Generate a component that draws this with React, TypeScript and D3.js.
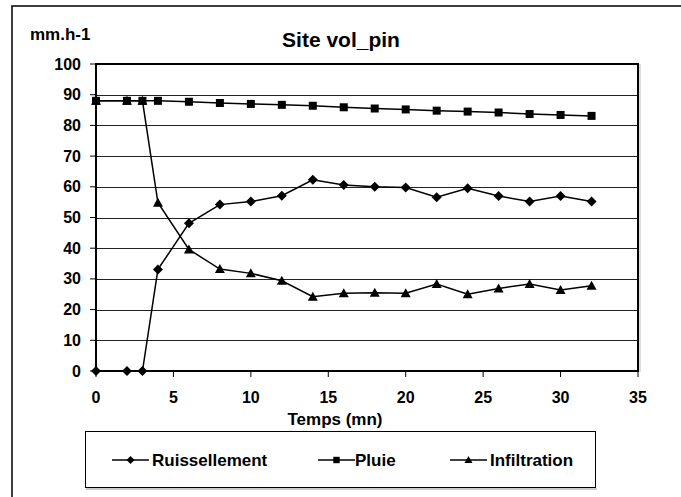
import React from "react";
import * as d3 from "d3";

const times = [0, 2, 3, 4, 6, 8, 10, 12, 14, 16, 18, 20, 22, 24, 26, 28, 30, 32];
const ruissellement = [0, 0, 0, 33.1, 48.1, 54.2, 55.2, 57.1, 62.3, 60.6, 60, 59.8, 56.6, 59.5, 57, 55.2, 57, 55.2];
const pluie = [88, 88, 88, 88, 87.7, 87.3, 87, 86.7, 86.4, 85.9, 85.5, 85.2, 84.8, 84.5, 84.2, 83.7, 83.4, 83.1];
const infiltration = [88, 88, 88, 54.8, 39.6, 33.2, 31.8, 29.4, 24.2, 25.3, 25.5, 25.3, 28.3, 25, 26.9, 28.3, 26.4, 27.8];
const xTicks = [0, 5, 10, 15, 20, 25, 30, 35];
const yTicks = [0, 10, 20, 30, 40, 50, 60, 70, 80, 90, 100];
const seriesNames = ["Ruissellement", "Pluie", "Infiltration"];

const FONT = "'Liberation Sans', Arial, sans-serif";

function Marker({ kind, x, y, s = 1 }: { kind: string; x: number; y: number; s?: number }) {
  if (kind === "diamond") {
    const r = 5 * s;
    return <path d={`M${x},${y - r}L${x + r},${y}L${x},${y + r}L${x - r},${y}Z`} fill="#000" />;
  }
  if (kind === "square") {
    const r = 4 * s;
    return <rect x={x - r} y={y - r} width={2 * r} height={2 * r} fill="#000" />;
  }
  const r = 5 * s;
  return <path d={`M${x},${y - r}L${x + r},${y + r - 1}L${x - r},${y + r - 1}Z`} fill="#000" />;
}

export default function App() {
  const L = 96, R = 638, T = 64, B = 371;
  const x = d3.scaleLinear().domain([0, 35]).range([L, R]);
  const y = d3.scaleLinear().domain([0, 100]).range([B, T]);
  const line = d3
    .line<[number, number]>()
    .x((d) => x(d[0]))
    .y((d) => y(d[1]));
  const data = [ruissellement, pluie, infiltration];
  const kinds = ["diamond", "square", "triangle"];
  const legendX = [112, 318, 450];
  const legendText = [152, 355, 490];

  return (
    <svg
      width={681}
      height={497}
      style={{ position: "fixed", left: 0, top: 0, background: "#fff" }}
      fontFamily={FONT}
    >
      <rect x={0} y={0} width={681} height={497} fill="#fff" />
      <rect x={12} y={6} width={720} height={600} fill="none" stroke="#000" strokeWidth={1.5} />
      <text x={30} y={40} fontSize={17} fontWeight="bold">mm.h-1</text>
      <text x={341} y={47} fontSize={21} fontWeight="bold" textAnchor="middle">Site vol_pin</text>

      {yTicks.filter((t) => t > 0 && t < 100).map((t) => (
        <line key={t} x1={L} x2={R} y1={Math.round(y(t)) + 0.5} y2={Math.round(y(t)) + 0.5} stroke="#222" strokeWidth={1} />
      ))}
      <rect x={L} y={T} width={R - L} height={B - T} fill="none" stroke="#000" strokeWidth={2} />
      <line x1={R + 2} x2={R + 2} y1={T} y2={B + 1} stroke="#bbb" strokeWidth={1} />

      {yTicks.map((t) => (
        <g key={t}>
          <line x1={L - 6} x2={L} y1={y(t)} y2={y(t)} stroke="#000" strokeWidth={1} />
          <text x={81} y={y(t) + 5.5} fontSize={16} fontWeight="bold" textAnchor="end">{t}</text>
        </g>
      ))}
      {xTicks.map((t) => (
        <g key={t}>
          <line x1={x(t)} x2={x(t)} y1={B} y2={B + 6} stroke="#000" strokeWidth={1} />
          <text x={x(t)} y={403} fontSize={16} fontWeight="bold" textAnchor="middle">{t}</text>
        </g>
      ))}
      <text x={335} y={425} fontSize={17} fontWeight="bold" textAnchor="middle">Temps (mn)</text>

      {data.map((vals, i) => {
        const pts = times.map((t, j) => [t, vals[j]] as [number, number]);
        return (
          <g key={i}>
            <path d={line(pts) || ""} fill="none" stroke="#000" strokeWidth={1.5} />
            {pts.map((p, j) => (
              <Marker key={j} kind={kinds[i]} x={x(p[0])} y={y(p[1])} />
            ))}
          </g>
        );
      })}

      <rect x={85.5} y={431.5} width={510} height={56} fill="#fff" stroke="#000" strokeWidth={1} />
      <line x1={86} x2={597} y1={489} y2={489} stroke="#999" strokeWidth={1} />
      {seriesNames.map((n, i) => (
        <g key={n}>
          <line x1={legendX[i]} x2={legendX[i] + 37} y1={460} y2={460} stroke="#000" strokeWidth={1.5} />
          <Marker kind={kinds[i]} x={legendX[i] + 18.5} y={460} s={0.8} />
          <text x={legendText[i]} y={466} fontSize={17} fontWeight="bold">{n}</text>
        </g>
      ))}
    </svg>
  );
}
